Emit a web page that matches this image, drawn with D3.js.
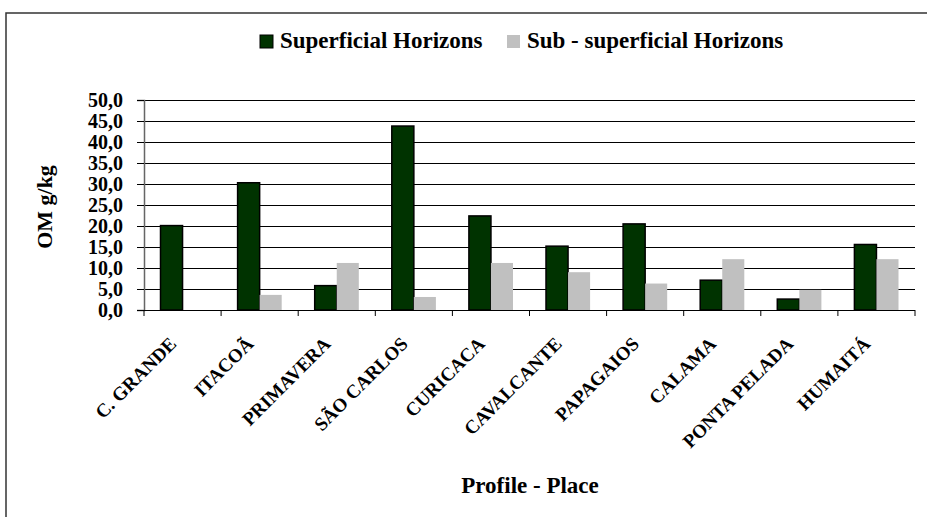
<!DOCTYPE html>
<html>
<head>
<meta charset="utf-8">
<script src="https://cdn.jsdelivr.net/npm/d3@7"></script>
<style>
  body { margin: 0; background: #fff; }
  svg text { font-family: 'Liberation Serif', 'Times New Roman', Times, 'DejaVu Serif', serif !important; font-weight: bold; fill: #000; }
</style>
</head>
<body>
<script>
'use strict';

// chart data
var places = ['C. GRANDE', 'ITACOÃ', 'PRIMAVERA', 'SÃO CARLOS', 'CURICACA',
              'CAVALCANTE', 'PAPAGAIOS', 'CALAMA', 'PONTA PELADA', 'HUMAITÁ'];
var seriesNames = ['Superficial Horizons', 'Sub - superficial Horizons'];
var superficial = [20.1, 30.3, 5.8, 43.8, 22.4, 15.2, 20.5, 7.1, 2.6, 15.6];
var subSuperficial = [0, 3.6, 11.2, 3.1, 11.2, 9.0, 6.3, 12.1, 4.8, 12.1];
var yTicks = [0, 5, 10, 15, 20, 25, 30, 35, 40, 45, 50];

var colors = ['#003300', '#c0c0c0'];
var serif = "'Liberation Serif', 'Times New Roman', Times, 'DejaVu Serif', serif";
var width = 927, height = 517;
var plot = {left: 144, right: 915, top: 100, bottom: 310};

var svg = d3.select('body').append('svg')
    .attr('width', width)
    .attr('height', height)
    .attr('font-family', serif);

// outer frame
svg.append('rect')
    .attr('x', 6).attr('y', 13)
    .attr('width', width).attr('height', height)
    .attr('fill', 'none')
    .attr('stroke', '#333')
    .attr('stroke-width', 1.5);

// scales
var x = d3.scaleBand()
    .domain(places)
    .range([plot.left, plot.right]);

var x1 = d3.scaleBand()
    .domain([0, 1])
    .range([16.5, x.bandwidth() - 16.5]);

var y = d3.scaleLinear()
    .domain([0, 50])
    .range([plot.bottom, plot.top]);

// gridlines
svg.append('g')
    .selectAll('line')
    .data(yTicks.slice(1))
    .enter().append('line')
    .attr('x1', plot.left).attr('x2', plot.right)
    .attr('y1', function(d) { return Math.round(y(d)) + 0.5; })
    .attr('y2', function(d) { return Math.round(y(d)) + 0.5; })
    .attr('stroke', '#000')
    .attr('stroke-width', 1);

// bars
var rows = places.map(function(p, i) {
    return {place: p, values: [superficial[i], subSuperficial[i]]};
});

var groups = svg.append('g')
    .selectAll('g')
    .data(rows)
    .enter().append('g')
    .attr('transform', function(d) { return 'translate(' + x(d.place) + ',0)'; });

groups.selectAll('rect')
    .data(function(d) { return d.values.map(function(v, k) { return {k: k, v: v}; }); })
    .enter().append('rect')
    .filter(function(d) { return d.v > 0; })
    .attr('x', function(d) { return x1(d.k); })
    .attr('y', function(d) { return y(d.v); })
    .attr('width', x1.bandwidth())
    .attr('height', function(d) { return y(0) - y(d.v); })
    .attr('fill', function(d) { return colors[d.k]; })
    .attr('stroke', function(d) { return d.k === 0 ? '#000' : 'none'; })
    .attr('stroke-width', 1.5);

// y axis
var yAxis = svg.append('g')
    .attr('transform', 'translate(' + plot.left + ',0)')
    .call(d3.axisLeft(y).tickValues(yTicks).tickSize(7).tickPadding(14)
        .tickFormat(function(d) { return d3.format('.1f')(d).replace('.', ','); }));
yAxis.attr('font-family', serif).attr('font-size', 20);
yAxis.select('.domain').attr('stroke', '#666').attr('stroke-width', 1.5);
yAxis.selectAll('.tick line').attr('stroke', '#000');
yAxis.selectAll('text')
    .attr('font-size', '20px')
    .attr('font-family', serif)
    .attr('font-weight', 'bold')
    .attr('fill', '#000');

// x axis (ticks at category boundaries)
var xAxis = svg.append('g')
    .attr('transform', 'translate(0,' + plot.bottom + ')');
xAxis.append('line')
    .attr('x1', plot.left).attr('x2', plot.right)
    .attr('y1', 0.5).attr('y2', 0.5)
    .attr('stroke', '#000');
var bounds = places.map(function(p) { return x(p); }).concat([plot.right]);
xAxis.selectAll('.xt')
    .data(bounds)
    .enter().append('line')
    .attr('class', 'xt')
    .attr('x1', function(d) { return d; }).attr('x2', function(d) { return d; })
    .attr('y1', 0).attr('y2', 6)
    .attr('stroke', '#000');

// rotated category labels
xAxis.selectAll('.xl')
    .data(places)
    .enter().append('text')
    .attr('class', 'xl')
    .attr('text-anchor', 'end')
    .attr('font-size', '19px')
    .attr('transform', function(d) {
        return 'translate(' + (x(d) + x.bandwidth() / 2 - 5) + ',35) rotate(-45)';
    })
    .text(function(d) { return d; });

// axis titles
svg.append('text')
    .attr('text-anchor', 'middle')
    .attr('font-size', '22px')
    .attr('transform', 'translate(52,207) rotate(-90)')
    .text('OM g/kg');

svg.append('text')
    .attr('x', 530).attr('y', 493)
    .attr('text-anchor', 'middle')
    .attr('font-size', '23px')
    .text('Profile - Place');

// legend
var legend = svg.append('g');
var legendX = [260, 507];
seriesNames.forEach(function(name, i) {
    legend.append('rect')
        .attr('x', legendX[i]).attr('y', 35)
        .attr('width', 13).attr('height', 13)
        .attr('fill', colors[i])
        .attr('stroke', i === 0 ? '#000' : 'none');
    legend.append('text')
        .attr('x', legendX[i] + 20).attr('y', 48)
        .attr('font-size', '23px')
        .text(name);
});
</script>
</body>
</html>
